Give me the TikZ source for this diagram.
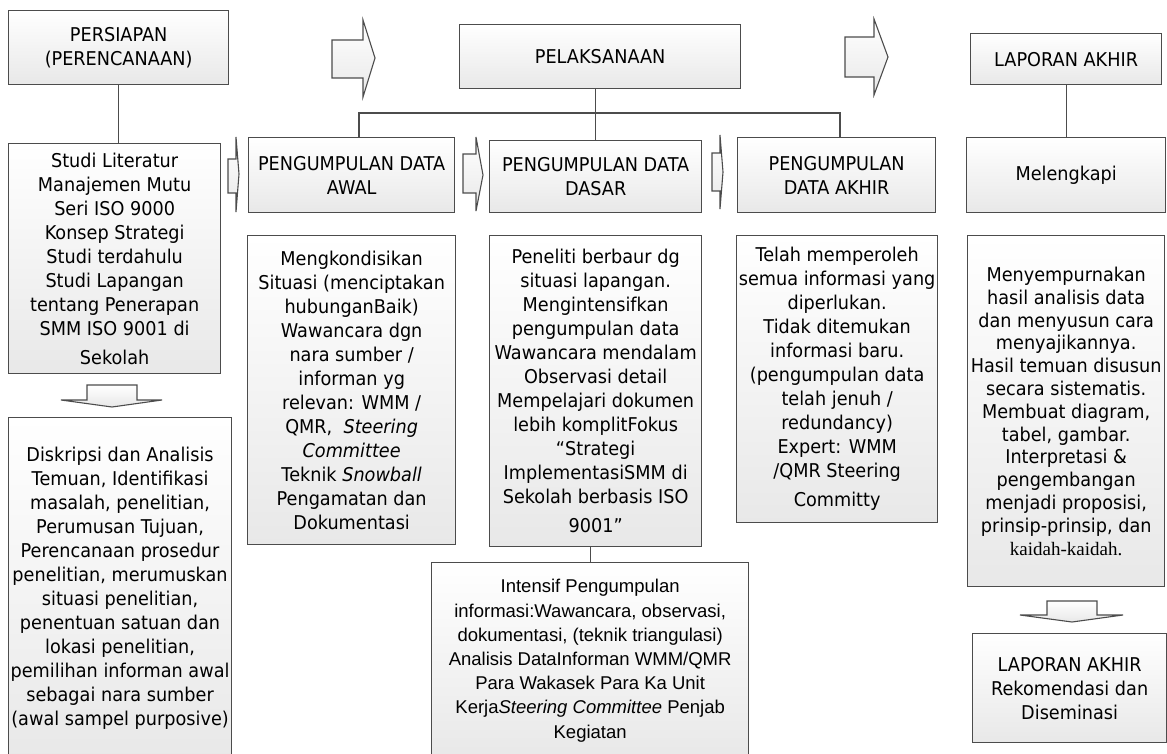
\documentclass[tikz,border=0pt]{standalone}
\usepackage{fontspec}
\setmainfont{DejaVu Sans}[FakeStretch=0.93]
\newfontfamily\arialfont{Liberation Sans}
\newfontfamily\timesfont{Liberation Serif}
\usetikzlibrary{positioning}
\tikzset{
  box/.style={
    rectangle,
    top color=white,
    bottom color=black!9,
    draw=black!70, line width=1.3pt,
    inner sep=2pt,
    align=center,
    anchor=north west,
    font=\fontsize{19}{24}\selectfont},
  line/.style={draw=black!70, line width=1.3pt},
  blockarrow/.style={
    draw=black!70, line width=1.1pt,
    top color=white, bottom color=black!9,
    line join=miter}
}

\begin{document}
\begin{tikzpicture}[x=1pt,y=-1pt]
  \clip (0,0) rectangle (1167,753);

  % baris atas
  \node[box, minimum width=220pt, minimum height=74pt] (persiapan) at (8,10) {PERSIAPAN\\(PERENCANAAN)};
  \node[box, minimum width=281pt, minimum height=64pt] (pelaksanaan) at (459,24) {PELAKSANAAN};
  \node[box, minimum width=191pt, minimum height=51pt] (laporan) at (970,33) {LAPORAN AKHIR};

  % tahap pengumpulan data
  \node[box, minimum width=212pt, minimum height=230pt] (studi) at (8,143)
    {Studi Literatur\\Manajemen Mutu\\Seri ISO 9000\\Konsep Strategi\\Studi terdahulu\\Studi Lapangan\\tentang Penerapan\\SMM ISO 9001 di\\[5pt]Sekolah};
  \node[box, minimum width=206pt, minimum height=75pt] (awal) at (248,137) {PENGUMPULAN DATA\\AWAL};
  \node[box, minimum width=212pt, minimum height=72pt] (dasar) at (489,140) {PENGUMPULAN DATA\\DASAR};
  \node[box, minimum width=198pt, minimum height=75pt] (akhir) at (737,137) {PENGUMPULAN\\DATA AKHIR};
  \node[box, minimum width=199pt, minimum height=75pt] (melengkapi) at (966,137) {Melengkapi};

  % isi tiap tahap
  \node[box, minimum width=208pt, minimum height=309pt] (kondisi) at (247,235)
    {Mengkondisikan\\Situasi (menciptakan\\hubunganBaik)\\Wawancara dgn\\nara sumber /\\informan yg\\relevan: WMM /\\QMR,\ \ \textit{Steering}\\\textit{Committee}\\Teknik \textit{Snowball}\\Pengamatan dan\\Dokumentasi};
  \node[box, minimum width=212pt, minimum height=311pt] (dasarisi) at (489,235)
    {Peneliti berbaur dg\\situasi lapangan.\\Mengintensifkan\\pengumpulan data\\Wawancara mendalam\\Observasi detail\\Mempelajari dokumen\\lebih komplitFokus\\“Strategi\\ImplementasiSMM di\\Sekolah berbasis ISO\\[5pt]9001”};
  \node[box, minimum width=201pt, minimum height=287pt] (telah) at (736,235)
    {Telah memperoleh\\semua informasi yang\\diperlukan.\\Tidak ditemukan\\informasi baru.\\(pengumpulan data\\telah jenuh /\\redundancy)\\Expert: WMM\\/QMR Steering\\[5pt]Committy};
  \node[box, minimum width=197pt, minimum height=351pt,
        font=\fontsize{19}{22.8}\selectfont] (sempurna) at (967,235)
    {Menyempurnakan\\hasil analisis data\\dan menyusun cara\\menyajikannya.\\Hasil temuan disusun\\secara sistematis.\\Membuat diagram,\\tabel, gambar.\\Interpretasi \&\\pengembangan\\menjadi proposisi,\\prinsip-prinsip, dan\\{\timesfont kaidah-kaidah.}};

  % baris bawah
  \node[box, minimum width=222pt, minimum height=342pt] (diskripsi) at (8,417)
    {Diskripsi dan Analisis\\Temuan, Identifikasi\\masalah, penelitian,\\Perumusan Tujuan,\\Perencanaan prosedur\\penelitian, merumuskan\\situasi penelitian,\\penentuan satuan dan\\lokasi penelitian,\\pemilihan informan awal\\sebagai nara sumber\\(awal sampel purposive)};
  \node[box, minimum width=317pt, minimum height=196pt,
        font=\arialfont\fontsize{18.5}{24.2}\selectfont] (intensif) at (431,562)
    {Intensif Pengumpulan\\informasi:Wawancara, observasi,\\dokumentasi, (teknik triangulasi)\\Analisis DataInforman WMM/QMR\\Para Wakasek Para Ka Unit\\Kerja\textit{Steering Committee} Penjab\\Kegiatan};
  \node[box, minimum width=194pt, minimum height=109pt] (rekomendasi) at (972,633)
    {LAPORAN AKHIR\\Rekomendasi dan\\Diseminasi};

  % garis penghubung
  \draw[line] (persiapan.south) -- (persiapan.south |- studi.north);
  \draw[line] (dasar.north) -- (dasar.north |- pelaksanaan.south);
  \coordinate (cabangL) at (359,113);
  \coordinate (cabangR) at (840,113);
  \draw[line] (cabangL |- awal.north) -- (cabangL) -- (cabangR) -- (cabangR |- akhir.north);
  \draw[line] (laporan.south) -- (melengkapi.north);
  \draw[line] (intensif.north) -- (intensif.north |- dasarisi.south);

  % panah blok
  \draw[blockarrow] (332,40) -- (363,40) -- (363,20) -- (375,58) -- (363,97) -- (363,78) -- (332,78) -- cycle;
  \draw[blockarrow] (845,37) -- (874,37) -- (874,19) -- (888,57) -- (874,95) -- (874,77) -- (845,77) -- cycle;
  \draw[blockarrow] (228,159) -- (236,159) -- (236,137) -- (239,174) -- (236,212) -- (236,193) -- (228,193) -- cycle;
  \draw[blockarrow] (463,154) -- (476,154) -- (476,137) -- (483,175) -- (476,211) -- (476,193) -- (463,193) -- cycle;
  \draw[blockarrow] (712,153) -- (720,153) -- (720,135) -- (723,172) -- (720,209) -- (720,191) -- (712,191) -- cycle;
  \draw[blockarrow] (87,385) -- (137,385) -- (137,400) -- (162,400) -- (112,407) -- (61,400) -- (87,400) -- cycle;
  \draw[blockarrow] (1047,601) -- (1097,601) -- (1097,615) -- (1123,615) -- (1072,622) -- (1020,615) -- (1047,615) -- cycle;
\end{tikzpicture}
\end{document}
